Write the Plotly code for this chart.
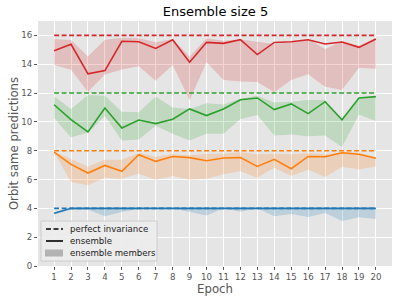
import plotly.graph_objects as go

epochs = list(range(1, 21))

# ensemble values (solid lines)
red_ens = [14.94, 15.38, 13.33, 13.56, 15.59, 15.56, 15.1, 15.7, 14.14, 15.52,
           15.45, 15.7, 14.67, 15.51, 15.56, 15.7, 15.4, 15.54, 15.17, 15.75]
green_ens = [11.19, 10.16, 9.3, 10.96, 9.58, 10.13, 9.88, 10.18, 10.9, 10.44,
             10.9, 11.54, 11.66, 10.85, 11.25, 10.57, 11.4, 10.14, 11.66, 11.75]
orange_ens = [7.9, 7.05, 6.45, 6.98, 6.57, 7.72, 7.26, 7.6, 7.52, 7.3,
              7.49, 7.52, 6.91, 7.4, 6.75, 7.6, 7.58, 7.86, 7.75, 7.47]
blue_ens = [3.66, 4.0, 4.0, 4.0, 4.0, 4.0, 4.0, 4.0, 4.0, 4.0,
            4.0, 4.0, 4.0, 4.0, 4.0, 4.0, 4.0, 4.0, 4.0, 4.0]

# ensemble members range (upper / lower)
red_hi = [15.75, 15.68, 14.53, 15.7, 15.84, 15.8, 15.52, 15.75, 14.53, 15.8,
          15.63, 15.72, 15.56, 15.4, 15.51, 15.75, 15.05, 15.6, 15.28, 15.82]
red_lo = [13.95, 13.61, 12.07, 13.29, 13.63, 13.86, 12.86, 13.95, 11.5, 14.14,
          12.9, 12.8, 12.76, 12.05, 12.9, 13.3, 12.43, 12.22, 13.76, 13.69]
green_hi = [11.77, 10.9, 11.86, 11.82, 10.7, 10.66, 11.76, 11.0, 10.9, 11.29,
            11.2, 11.6, 11.82, 11.35, 11.4, 11.51, 11.51, 10.14, 11.7, 11.75]
green_lo = [10.25, 8.94, 9.24, 10.4, 8.7, 8.77, 9.74, 9.17, 8.71, 9.17,
            9.17, 10.2, 10.48, 9.05, 9.12, 9.0, 9.05, 8.25, 10.52, 10.06]
orange_hi = [7.95, 7.45, 6.91, 7.38, 7.38, 7.84, 7.6, 7.75, 7.68, 7.79,
             7.79, 7.9, 7.75, 7.79, 7.75, 7.84, 7.75, 7.9, 7.86, 7.56]
orange_lo = [7.9, 5.83, 5.6, 6.13, 6.06, 6.4, 5.99, 6.24, 5.99, 6.06,
             6.36, 6.57, 6.13, 6.82, 6.24, 6.68, 6.17, 6.87, 6.71, 6.91]
blue_hi = [3.75, 4.0, 4.0, 4.0, 4.0, 4.0, 4.0, 4.0, 4.0, 4.0,
           4.0, 4.0, 4.0, 4.0, 4.0, 4.0, 4.0, 4.0, 4.0, 4.0]
blue_lo = [3.55, 3.9, 3.9, 3.45, 3.75, 3.95, 4.0, 4.0, 3.75, 3.5,
           4.0, 3.77, 4.0, 3.45, 3.6, 3.4, 3.68, 3.12, 3.38, 3.26]

# perfect invariance levels
perfect = [4, 8, 12, 16]

legend_labels = ["perfect invariance", "ensemble", "ensemble members"]

series = [
    ("#1f77b4", "rgba(31,119,180,0.2)", blue_ens, blue_hi, blue_lo, perfect[0]),
    ("#ff7f0e", "rgba(255,127,14,0.2)", orange_ens, orange_hi, orange_lo, perfect[1]),
    ("#2ca02c", "rgba(44,160,44,0.2)", green_ens, green_hi, green_lo, perfect[2]),
    ("#d62728", "rgba(214,39,40,0.2)", red_ens, red_hi, red_lo, perfect[3]),
]

DASH = "5px,2.5px"
fig = go.Figure()

for color, fill, ens, hi, lo, level in series:
    fig.add_trace(go.Scatter(x=epochs, y=hi, mode="lines", line=dict(width=0, color=fill),
                             showlegend=False, hoverinfo="skip"))
    fig.add_trace(go.Scatter(x=epochs, y=lo, mode="lines", line=dict(width=0, color=fill),
                             fill="tonexty", fillcolor=fill, showlegend=False, hoverinfo="skip"))

for color, fill, ens, hi, lo, level in series:
    fig.add_trace(go.Scatter(x=[epochs[0], epochs[-1]], y=[level, level], mode="lines",
                             line=dict(color=color, width=1.6, dash=DASH),
                             showlegend=False))
    fig.add_trace(go.Scatter(x=epochs, y=ens, mode="lines",
                             line=dict(color=color, width=1.6), showlegend=False))

# compact legend box (matplotlib-like) drawn in paper coordinates
L = 38; T = 21; W = 354; H = 245
def px(x):
    return (x - L) / W
def py(y):
    return (T + H - y) / H

shapes = [
    dict(type="rect", xref="paper", yref="paper", x0=px(41), x1=px(157), y0=py(261), y1=py(221),
         fillcolor="rgba(236,236,236,0.9)", line=dict(color="#cccccc", width=1), layer="above"),
    dict(type="line", xref="paper", yref="paper", x0=px(46), x1=px(63), y0=py(229), y1=py(229),
         line=dict(color="black", width=1.6, dash=DASH), layer="above"),
    dict(type="line", xref="paper", yref="paper", x0=px(46), x1=px(63), y0=py(241), y1=py(241),
         line=dict(color="black", width=1.6), layer="above"),
    dict(type="rect", xref="paper", yref="paper", x0=px(45), x1=px(63), y0=py(256.5), y1=py(249.5),
         fillcolor="#b3b3b3", line=dict(width=0), layer="above"),
]
annotations = []
for label, yy in zip(legend_labels, [229, 241, 253]):
    annotations.append(dict(text=label, xref="paper", yref="paper", x=px(68), y=py(yy),
                            xanchor="left", yanchor="middle", showarrow=False,
                            font=dict(size=8.6, color="#222222")))

fig.update_layout(
    width=399, height=301,
    margin=dict(l=L, r=399 - L - W, t=T, b=301 - T - H, pad=0),
    paper_bgcolor="white",
    plot_bgcolor="#e5e5e5",
    font=dict(family="DejaVu Sans", size=8.6, color="#555555"),
    title=dict(text="Ensemble size 5", x=0.54, xanchor="center", y=0.962, yanchor="middle",
               yref="container", font=dict(size=13, color="black")),
    xaxis=dict(range=[0.05, 20.95], tickvals=epochs, ticktext=[str(e) for e in epochs],
               showgrid=True, gridcolor="white", gridwidth=1, zeroline=False,
               ticks="outside", ticklen=3, tickcolor="#555555", tickwidth=1,
               tickfont=dict(size=8.6, color="#555555"), automargin=False,
               title=dict(text="Epoch", font=dict(size=11.7, color="#555555"), standoff=3)),
    yaxis=dict(range=[0, 17], tickvals=[0, 2, 4, 6, 8, 10, 12, 14, 16],
               showgrid=True, gridcolor="white", gridwidth=1, zeroline=False,
               ticks="outside", ticklen=3, tickcolor="#555555", tickwidth=1,
               tickfont=dict(size=8.6, color="#555555"), automargin=False,
               title=dict(text="Orbit same predictions", font=dict(size=11.7, color="#555555"),
                          standoff=0)),
    shapes=shapes,
    annotations=annotations,
    showlegend=False,
)

fig.write_html("out.html", config={"displayModeBar": False},
               post_script="document.body.style.margin='0px';document.body.style.overflow='hidden';")
